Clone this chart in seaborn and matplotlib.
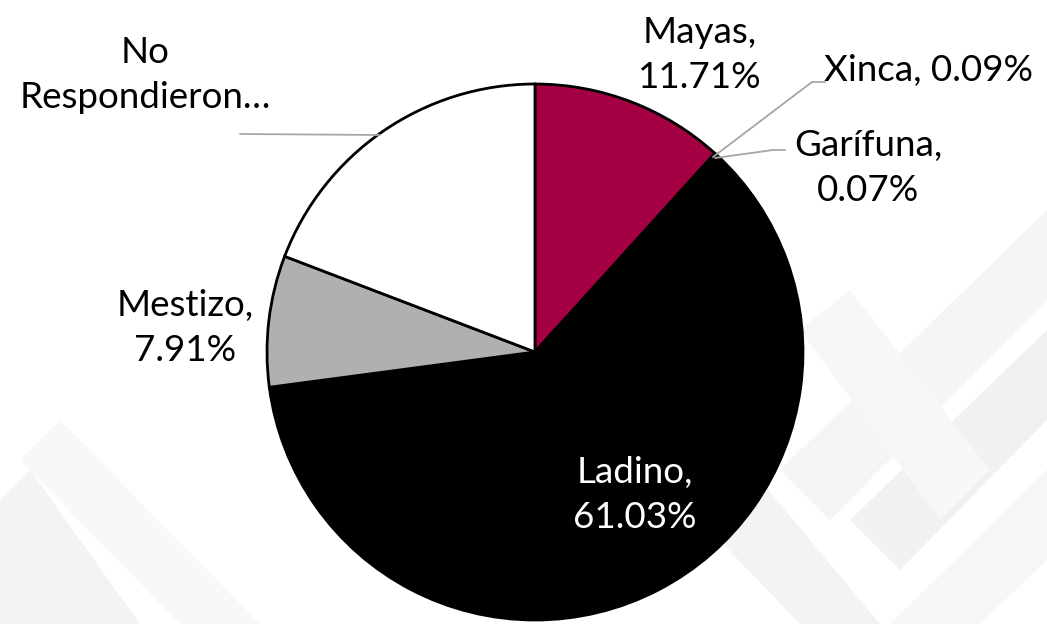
import matplotlib
matplotlib.use("Agg")
import matplotlib.pyplot as plt
import seaborn as sns
from matplotlib.patches import Polygon

sns.set_theme(style="white")
plt.rcParams['font.family'] = ['Lato', 'DejaVu Sans']

categories = ["Mayas", "Xinca", "Garífuna", "Ladino", "Mestizo", "No Respondieron"]
values = [11.71, 0.09, 0.07, 61.03, 7.91, 19.19]
colors = ["#A50044", "#8c0038", "#8c0038", "#000000", "#B0B0B0", "#FFFFFF"]
label_texts = ["Mayas,\n11.71%", "Xinca, 0.09%", "Garífuna,\n0.07%",
               "Ladino,\n61.03%", "Mestizo,\n7.91%", "No\nRespondieron…"]
label_colors = ["black", "black", "black", "white", "black", "black"]

W, H = 1047, 624
fig = plt.figure(figsize=(W / 100, H / 100), dpi=100)
fig.patch.set_facecolor("white")
ax = fig.add_axes([0, 0, 1, 1])
ax.set_xlim(0, W)
ax.set_ylim(0, H)
ax.set_aspect("equal")
ax.set_axis_off()

# faint background watermark bands (pixel coords, y measured from top)
def P(pts):
    return [(x, H - y) for x, y in pts]

bands = [
    [(1047, 210), (1047, 300), (830, 520), (780, 470)],
    [(1047, 330), (1047, 420), (900, 570), (850, 520)],
    [(1047, 470), (1047, 560), (980, 624), (890, 624)],
    [(800, 330), (850, 290), (990, 470), (940, 520)],
    [(700, 520), (760, 480), (880, 624), (800, 624)],
    [(30, 470), (0, 500), (0, 624), (140, 624)],
    [(20, 460), (60, 420), (260, 624), (180, 624)],
]
shades = ["#f5f5f6", "#f1f1f2", "#f6f6f7", "#f7f7f8", "#f3f3f4", "#f3f3f4", "#f8f8f9"]
for pts, c in zip(bands, shades):
    ax.add_patch(Polygon(P(pts), closed=True, facecolor=c, edgecolor="none",
                         zorder=0))

cx, cy, r = 535, H - 352, 268
wedges, _ = ax.pie(values, colors=colors, startangle=90, counterclock=False,
                   center=(cx, cy), radius=r, frame=True,
                   wedgeprops=dict(edgecolor="black", linewidth=2))
for w in wedges:
    w.set_zorder(2)
ax.set_xlim(0, W)
ax.set_ylim(0, H)
ax.set_axis_off()

fs = 26.5
pos = {
    "Mayas": (700, 55),
    "Xinca": (929, 70),
    "Garífuna": (868, 168),
    "Ladino": (635, 495),
    "Mestizo": (185, 328),
    "No Respondieron": (145, 75),
}
for cat, txt, tc in zip(categories, label_texts, label_colors):
    x, y = pos[cat]
    ax.text(x, H - y, txt, ha="center", va="center", fontsize=fs, color=tc,
            linespacing=1.45, zorder=5)

lc = "#a6a6a6"
ax.plot([713, 812, 825], [H - 157, H - 82, H - 82], color=lc, lw=1.3, zorder=4)
ax.plot([715, 773, 785], [H - 158, H - 150, H - 150], color=lc, lw=1.3, zorder=4)
ax.plot([240, 380], [H - 134, H - 135], color=lc, lw=1.3, zorder=4)

fig.savefig("out.png", dpi=100, facecolor="white")
